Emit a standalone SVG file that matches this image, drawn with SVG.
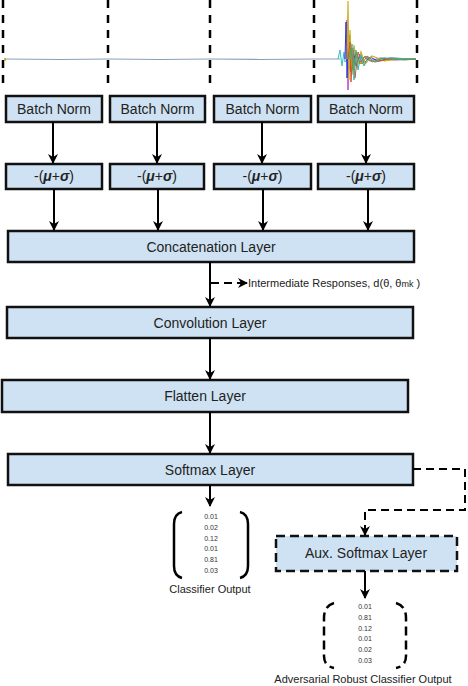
<svg xmlns="http://www.w3.org/2000/svg" width="468" height="686" viewBox="0 0 468 686">
<defs>
<marker id="ah" markerWidth="10" markerHeight="10" refX="9" refY="5" orient="auto" markerUnits="userSpaceOnUse">
<path d="M0,0 L10,5 L0,10 L3,5 z" fill="#000"/>
</marker>
<style>
.box{fill:#cfe2f3;stroke:#111;stroke-width:2.5}
.dbox{fill:#cfe2f3;stroke:#111;stroke-width:2.5;stroke-dasharray:9,5}
.lbl{font-family:"Liberation Sans",Arial,sans-serif;font-size:14px;fill:#222;text-anchor:middle}
.sm{font-family:"Liberation Sans",Arial,sans-serif;font-size:7px;fill:#333;text-anchor:middle}
.cap{font-family:"Liberation Sans",Arial,sans-serif;font-size:11px;fill:#222;text-anchor:middle}
.con{stroke:#000;stroke-width:2;fill:none;marker-end:url(#ah)}
.dcon{stroke:#000;stroke-width:2;fill:none;stroke-dasharray:8,5}
.sep{stroke:#000;stroke-width:2.5;stroke-dasharray:8,7}
</style>
</defs>

<g id="signal">
<line class="sep" x1="3" y1="0" x2="3" y2="84"/>
<line class="sep" x1="108" y1="0" x2="108" y2="84"/>
<line class="sep" x1="210" y1="0" x2="210" y2="84"/>
<line class="sep" x1="314" y1="0" x2="314" y2="84"/>
<line class="sep" x1="417" y1="0" x2="417" y2="84"/>
<polyline points="5,59 60,59.5 110,59 160,59.5 210,59 260,59.5 314,59 340,59" fill="none" stroke="#8aa0b8" stroke-width="1.2"/>
<polyline points="5,58 5,61" fill="none" stroke="#d0a000" stroke-width="1.5"/>
<polyline points="338,59 340,50 342,66 344,52 345,62 347,59" fill="none" stroke="#30c0c8" stroke-width="1"/>
<polyline points="346,59 347,20 348,90 349,40 350,70 352,50 354,65 357,55 360,62 364,57 370,61 380,58 395,60 416,59" fill="none" stroke="#c040c0" stroke-width="1"/>
<polyline points="345,59 346,22 347,78 349,35 351,72 353,48 356,66 360,54 364,63 370,57 378,61 390,58 416,59" fill="none" stroke="#3030e0" stroke-width="1"/>
<polyline points="347,59 348,1 349,80 350,30 352,75 354,45 357,68 361,52 365,64 372,56 385,61 400,59 416,59" fill="none" stroke="#c8b020" stroke-width="1.2"/>
<polyline points="348,59 350,42 351,82 353,50 355,78 358,52 362,64 367,56 375,62 390,59 416,59" fill="none" stroke="#e05020" stroke-width="1"/>
<polyline points="350,59 352,44 354,80 356,50 358,70 361,55 364,66 368,57 374,62 384,58 416,59" fill="none" stroke="#30b8c0" stroke-width="1"/>
<polyline points="349,59 351,48 353,70 356,52 360,64 365,56 372,62 382,58 405,60 416,59" fill="none" stroke="#60a040" stroke-width="1"/>
</g>

<g id="bn1"><rect class="box" x="6" y="96" width="96" height="26"/><text class="lbl" x="54" y="114">Batch Norm</text></g>
<g id="bn2"><rect class="box" x="110" y="96" width="95" height="26"/><text class="lbl" x="157.5" y="114">Batch Norm</text></g>
<g id="bn3"><rect class="box" x="214" y="96" width="97" height="26"/><text class="lbl" x="262.5" y="114">Batch Norm</text></g>
<g id="bn4"><rect class="box" x="318" y="96" width="96" height="26"/><text class="lbl" x="366" y="114">Batch Norm</text></g>

<g id="mu1"><rect class="box" x="6" y="164" width="96" height="25"/><text class="lbl" x="54" y="181">-(<tspan font-weight="bold" font-style="italic">μ</tspan>+<tspan font-weight="bold" font-style="italic">σ</tspan>)</text></g>
<g id="mu2"><rect class="box" x="110" y="164" width="94" height="25"/><text class="lbl" x="157" y="181">-(<tspan font-weight="bold" font-style="italic">μ</tspan>+<tspan font-weight="bold" font-style="italic">σ</tspan>)</text></g>
<g id="mu3"><rect class="box" x="214" y="164" width="97" height="25"/><text class="lbl" x="262.5" y="181">-(<tspan font-weight="bold" font-style="italic">μ</tspan>+<tspan font-weight="bold" font-style="italic">σ</tspan>)</text></g>
<g id="mu4"><rect class="box" x="318" y="164" width="96" height="25"/><text class="lbl" x="366" y="181">-(<tspan font-weight="bold" font-style="italic">μ</tspan>+<tspan font-weight="bold" font-style="italic">σ</tspan>)</text></g>

<g id="concat"><rect class="box" x="8" y="231" width="406" height="31"/><text class="lbl" x="211" y="252">Concatenation Layer</text></g>
<g id="conv"><rect class="box" x="7" y="307" width="406" height="31"/><text class="lbl" x="210" y="328">Convolution Layer</text></g>
<g id="flatten"><rect class="box" x="2" y="380" width="406" height="32"/><text class="lbl" x="205" y="401">Flatten Layer</text></g>
<g id="softmax"><rect class="box" x="8" y="454" width="405" height="31"/><text class="lbl" x="210" y="475">Softmax Layer</text></g>
<g id="aux"><rect class="dbox" x="276" y="536" width="181" height="35"/><text class="lbl" x="366" y="558">Aux. Softmax Layer</text></g>

<g id="inter-label"><text font-family="Liberation Sans, Arial, sans-serif" font-size="11" fill="#222" x="248" y="287">Intermediate Responses, d(θ, θ<tspan font-size="9">mk</tspan> )</text></g>

<g id="classifier-output">
<path d="M182,512 Q174,514 174,524 L174,566 Q174,576 182,578" fill="none" stroke="#000" stroke-width="2.5"/>
<path d="M240,512 Q248,514 248,524 L248,566 Q248,576 240,578" fill="none" stroke="#000" stroke-width="2.5"/>
<text class="sm" x="211" y="519">0.01</text>
<text class="sm" x="211" y="530">0.02</text>
<text class="sm" x="211" y="541">0.12</text>
<text class="sm" x="211" y="551">0.01</text>
<text class="sm" x="211" y="562">0.81</text>
<text class="sm" x="211" y="573">0.03</text>
<text class="cap" x="210" y="593">Classifier Output</text>
</g>

<g id="robust-output">
<path d="M334,603 Q324,606 324,618 L324,656 Q324,666 334,668" fill="none" stroke="#000" stroke-width="2.5" stroke-dasharray="9,5"/>
<path d="M396,603 Q406,606 406,618 L406,656 Q406,666 396,668" fill="none" stroke="#000" stroke-width="2.5" stroke-dasharray="9,5"/>
<text class="sm" x="365" y="609">0.01</text>
<text class="sm" x="365" y="620">0.81</text>
<text class="sm" x="365" y="631">0.12</text>
<text class="sm" x="365" y="641">0.01</text>
<text class="sm" x="365" y="652">0.02</text>
<text class="sm" x="365" y="663">0.03</text>
<text class="cap" x="363" y="683">Adversarial Robust Classifier Output</text>
</g>

<g id="connectors">
<line class="con" x1="53" y1="122" x2="53" y2="163"/>
<line class="con" x1="157" y1="122" x2="157" y2="163"/>
<line class="con" x1="262" y1="122" x2="262" y2="163"/>
<line class="con" x1="366" y1="122" x2="366" y2="163"/>
<line class="con" x1="54" y1="189" x2="54" y2="230"/>
<line class="con" x1="158" y1="189" x2="158" y2="230"/>
<line class="con" x1="263" y1="189" x2="263" y2="230"/>
<line class="con" x1="368" y1="189" x2="368" y2="230"/>
<line class="con" x1="210" y1="262" x2="210" y2="306"/>
<line class="dcon" x1="211" y1="283" x2="240" y2="283"/>
<line class="con" x1="238" y1="283" x2="247" y2="283"/>
<line class="con" x1="210" y1="338" x2="210" y2="379"/>
<line class="con" x1="210" y1="412" x2="210" y2="453"/>
<line class="con" x1="210" y1="485" x2="210" y2="506"/>
<polyline class="dcon" points="413,469 465,469 465,510 365,510 365,528"/>
<line class="con" x1="365" y1="526" x2="365" y2="535"/>
<line class="con" x1="365" y1="571" x2="365" y2="598"/>
</g>
</svg>
